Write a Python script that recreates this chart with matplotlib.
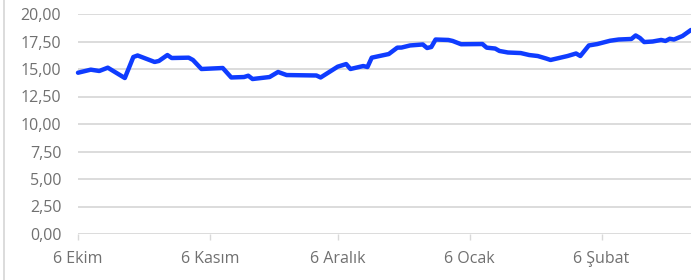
import matplotlib
matplotlib.use("Agg")
import matplotlib.pyplot as plt
from matplotlib.lines import Line2D
from matplotlib.ticker import FuncFormatter
import pandas as pd

dates = ["2022-10-06", "2022-10-09", "2022-10-11", "2022-10-13", "2022-10-17", "2022-10-19",
         "2022-10-20", "2022-10-24", "2022-10-25", "2022-10-27", "2022-10-28", "2022-11-01",
         "2022-11-02", "2022-11-04", "2022-11-09", "2022-11-11", "2022-11-14", "2022-11-15",
         "2022-11-16", "2022-11-20", "2022-11-22", "2022-11-24", "2022-12-01", "2022-12-02",
         "2022-12-06", "2022-12-08", "2022-12-09", "2022-12-12", "2022-12-13", "2022-12-14",
         "2022-12-18", "2022-12-20", "2022-12-21", "2022-12-23", "2022-12-26", "2022-12-27",
         "2022-12-28", "2022-12-29", "2023-01-01", "2023-01-02", "2023-01-04", "2023-01-09",
         "2023-01-10", "2023-01-12", "2023-01-13", "2023-01-15", "2023-01-18", "2023-01-20",
         "2023-01-22", "2023-01-24", "2023-01-25", "2023-01-27", "2023-01-29", "2023-01-31",
         "2023-02-01", "2023-02-03", "2023-02-05", "2023-02-08", "2023-02-10", "2023-02-13",
         "2023-02-14", "2023-02-15", "2023-02-16", "2023-02-18", "2023-02-20", "2023-02-21",
         "2023-02-22", "2023-02-23", "2023-02-25", "2023-02-27"]
values = [14.66, 14.94, 14.82, 15.12, 14.18, 16.09,
          16.23, 15.64, 15.73, 16.27, 16.00, 16.03,
          15.82, 15.00, 15.09, 14.23, 14.27, 14.39,
          14.09, 14.27, 14.73, 14.45, 14.41, 14.23,
          15.21, 15.45, 15.00, 15.27, 15.18, 16.03,
          16.36, 16.94, 16.95, 17.14, 17.23, 16.91,
          17.00, 17.68, 17.64, 17.55, 17.25, 17.27,
          16.94, 16.86, 16.64, 16.50, 16.45, 16.27,
          16.18, 15.95, 15.82, 16.00, 16.18, 16.41,
          16.18, 17.14, 17.27, 17.57, 17.68, 17.73,
          18.05, 17.82, 17.45, 17.50, 17.64, 17.55,
          17.75, 17.68, 18.00, 18.55]

tick_dates = ["2022-10-06", "2022-11-06", "2022-12-06", "2023-01-06", "2023-02-06"]
tick_labels = ["6 Ekim", "6 Kasım", "6 Aralık", "6 Ocak", "6 Şubat"]
y_ticks = [0, 2.5, 5, 7.5, 10, 12.5, 15, 17.5, 20]

plt.rcParams['font.family'] = ['Open Sans', 'DejaVu Sans']

x = pd.to_datetime(dates)
fig = plt.figure(figsize=(6.91, 2.80), dpi=100)
ax = fig.add_axes([78/691, 1-234/280, 1-78/691, 220/280])

grid_c = '#d9d9d9'
text_c = '#707070'
for yv in y_ticks:
    ax.axhline(yv, color=grid_c, lw=1.3, zorder=1)

ax.plot(x, values, color='#0f3cff', lw=3.2, solid_joinstyle='round', solid_capstyle='round', zorder=3, clip_on=False)

ax.set_ylim(0, 20)
ax.set_xlim(pd.Timestamp("2022-10-06"), pd.Timestamp("2023-02-27"))
ax.set_yticks(y_ticks)
ax.yaxis.set_major_formatter(FuncFormatter(lambda v, p: f"{v:.2f}".replace('.', ',')))
ax.set_xticks(pd.to_datetime(tick_dates))
ax.set_xticklabels(tick_labels)

for s in ax.spines.values():
    s.set_visible(False)
ax.tick_params(axis='y', length=0, pad=12, labelsize=11.5, labelcolor=text_c)
ax.tick_params(axis='x', length=4, width=1, color=grid_c, pad=8, labelsize=11.5, labelcolor=text_c)

fig.add_artist(Line2D([3.5/691, 3.5/691], [0, 1], color=grid_c, lw=1.3, transform=fig.transFigure))

fig.savefig("out.png", dpi=100)
